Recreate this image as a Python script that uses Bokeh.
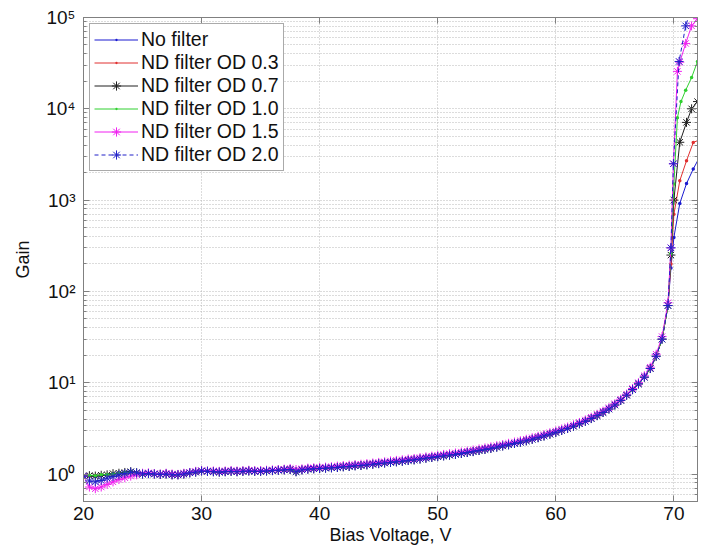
from bokeh.plotting import figure
from bokeh.models import Range1d, FixedTicker, LogAxis, LinearAxis, CustomJSTickFormatter
from bokeh.embed import file_html
from bokeh.resources import INLINE

# ---- data ----
V_HEAD = [20.0, 20.5, 21.0, 21.5, 22.0, 22.5, 23.0, 23.5, 24.0, 24.5]

G_HEAD_NOFILTER = [0.93, 0.95, 0.94, 0.96, 0.98, 1.00, 1.02, 1.03, 1.07, 1.03]
G_HEAD_OD03 = [0.94, 0.95, 0.96, 0.97, 0.99, 1.00, 1.01, 1.03, 1.05, 1.02]
G_HEAD_OD07 = [0.95, 0.96, 0.95, 0.97, 0.98, 1.01, 1.02, 1.04, 1.06, 1.03]
G_HEAD_OD10 = [0.94, 0.97, 0.96, 0.98, 0.99, 1.00, 1.01, 1.03, 1.05, 1.02]
G_HEAD_OD15 = [0.95, 0.72, 0.69, 0.72, 0.77, 0.82, 0.87, 0.91, 0.95, 0.98]
G_HEAD_OD20 = [0.95, 0.84, 0.82, 0.85, 0.90, 0.94, 0.98, 1.01, 1.05, 1.03]

V_MID = [25.0, 25.5, 26.0, 26.5, 27.0, 27.5, 28.0, 28.5, 29.0, 29.5,
         30.0, 30.5, 31.0, 31.5, 32.0, 32.5, 33.0, 33.5, 34.0, 34.5,
         35.0, 35.5, 36.0, 36.5, 37.0, 37.5, 38.0, 38.5, 39.0, 39.5,
         40.0, 40.5, 41.0, 41.5, 42.0, 42.5, 43.0, 43.5, 44.0, 44.5,
         45.0, 45.5, 46.0, 46.5, 47.0, 47.5, 48.0, 48.5, 49.0, 49.5,
         50.0, 50.5, 51.0, 51.5, 52.0, 52.5, 53.0, 53.5, 54.0, 54.5,
         55.0, 55.5, 56.0, 56.5, 57.0, 57.5, 58.0, 58.5, 59.0, 59.5,
         60.0, 60.5, 61.0, 61.5, 62.0, 62.5, 63.0, 63.5, 64.0, 64.5,
         65.0, 65.5, 66.0, 66.5, 67.0, 67.5, 68.0, 68.5, 69.0, 69.5]

G_MID = [1.00, 1.01, 1.00, 0.99, 1.00, 0.98, 0.98, 1.00, 1.03, 1.05,
         1.08, 1.07, 1.06, 1.05, 1.06, 1.07, 1.06, 1.07, 1.08, 1.07,
         1.07, 1.08, 1.09, 1.10, 1.11, 1.12, 1.06, 1.11, 1.13, 1.14,
         1.15, 1.16, 1.17, 1.18, 1.20, 1.21, 1.23, 1.24, 1.26, 1.28,
         1.30, 1.32, 1.34, 1.36, 1.38, 1.41, 1.43, 1.46, 1.49, 1.52,
         1.55, 1.58, 1.61, 1.64, 1.68, 1.72, 1.76, 1.81, 1.86, 1.91,
         1.97, 2.03, 2.09, 2.16, 2.23, 2.31, 2.40, 2.50, 2.61, 2.73,
         2.86, 3.00, 3.16, 3.34, 3.55, 3.78, 4.05, 4.36, 4.72, 5.15,
         5.70, 6.40, 7.30, 8.40, 9.70, 11.5, 14.3, 19.5, 30.0, 70.0]

G_MID_OD15 = [1.02, 1.03, 1.01, 1.00, 1.02, 1.00, 0.99, 1.02, 1.04, 1.07,
              1.09, 1.08, 1.08, 1.07, 1.08, 1.09, 1.08, 1.09, 1.10, 1.09,
              1.09, 1.10, 1.11, 1.12, 1.13, 1.15, 1.12, 1.14, 1.16, 1.17,
              1.18, 1.19, 1.20, 1.22, 1.24, 1.25, 1.27, 1.28, 1.30, 1.32,
              1.34, 1.36, 1.39, 1.41, 1.43, 1.46, 1.48, 1.51, 1.54, 1.57,
              1.60, 1.64, 1.67, 1.70, 1.74, 1.78, 1.83, 1.88, 1.93, 1.98,
              2.04, 2.10, 2.17, 2.24, 2.31, 2.40, 2.49, 2.59, 2.70, 2.83,
              2.96, 3.11, 3.27, 3.46, 3.67, 3.91, 4.19, 4.51, 4.88, 5.32,
              5.88, 6.60, 7.50, 8.65, 10.0, 11.9, 14.8, 20.5, 32.0, 75.0]

V_TAIL_NOFILTER = [69.75, 70.0, 70.5, 71.07, 71.64, 72.2]
G_TAIL_NOFILTER = [180, 390, 920, 1520, 2190, 3000]
V_TAIL_OD03 = [69.75, 70.0, 70.5, 71.07, 71.64, 72.2]
G_TAIL_OD03 = [200, 700, 1630, 2700, 4270, 4600]
V_TAIL_OD07 = [69.75, 70.0, 70.5, 71.07, 71.5, 72.0]
G_TAIL_OD07 = [250, 1000, 4300, 7100, 10000, 12000]
V_TAIL_OD10 = [69.75, 70.0, 70.3, 70.6, 71.0, 71.5, 72.0]
G_TAIL_OD10 = [260, 1500, 8000, 12000, 16000, 22000, 33000]
V_TAIL_OD15 = [69.75, 69.96, 70.3, 70.5, 71.0, 71.5, 72.0]
G_TAIL_OD15 = [300, 2500, 25700, 32400, 52000, 81000, 97000]
V_TAIL_OD20 = [69.75, 69.96, 70.44, 71.0, 71.5]
G_TAIL_OD20 = [300, 2500, 33000, 81000, 130000]

LABELS = ["No filter", "ND filter OD 0.3", "ND filter OD 0.7",
          "ND filter OD 1.0", "ND filter OD 1.5", "ND filter OD 2.0"]
X_TICKS = [20, 30, 40, 50, 60, 70]
Y_TICKS = [1, 10, 100, 1000, 10000, 100000]
Y_MINOR = [0.5, 0.6, 0.7, 0.8, 0.9,
           2, 3, 4, 5, 6, 7, 8, 9,
           20, 30, 40, 50, 60, 70, 80, 90,
           200, 300, 400, 500, 600, 700, 800, 900,
           2000, 3000, 4000, 5000, 6000, 7000, 8000, 9000,
           20000, 30000, 40000, 50000, 60000, 70000, 80000, 90000]

series = [
    (V_HEAD + V_MID + V_TAIL_NOFILTER, G_HEAD_NOFILTER + G_MID + G_TAIL_NOFILTER),
    (V_HEAD + V_MID + V_TAIL_OD03, G_HEAD_OD03 + G_MID + G_TAIL_OD03),
    (V_HEAD + V_MID + V_TAIL_OD07, G_HEAD_OD07 + G_MID + G_TAIL_OD07),
    (V_HEAD + V_MID + V_TAIL_OD10, G_HEAD_OD10 + G_MID + G_TAIL_OD10),
    (V_HEAD + V_MID + V_TAIL_OD15, G_HEAD_OD15 + G_MID_OD15 + G_TAIL_OD15),
    (V_HEAD + V_MID + V_TAIL_OD20, G_HEAD_OD20 + G_MID + G_TAIL_OD20),
]
styles = [
    dict(color="#1a1ad0", marker="dot", size=14, dash="solid"),
    dict(color="#e03030", marker="dot", size=14, dash="solid"),
    dict(color="#202020", marker="asterisk", size=9, dash="solid"),
    dict(color="#30d030", marker="dot", size=14, dash="solid"),
    dict(color="#f020f0", marker="asterisk", size=9, dash="solid"),
    dict(color="#2020c8", marker="asterisk", size=9, dash="4 3"),
]

FONT = "Liberation Sans"
AX = "#808080"
GRID = "#b8b8b8"

p = figure(width=705, height=549, x_range=Range1d(20, 72), y_range=Range1d(0.5, 1e5),
           y_axis_type="log", output_backend="svg", toolbar_location=None,
           min_border_left=83, min_border_right=8, min_border_top=17, min_border_bottom=48)
p.background_fill_color = "white"
p.border_fill_color = "white"
p.outline_line_color = AX

xt = FixedTicker(ticks=X_TICKS, minor_ticks=[])
yt = FixedTicker(ticks=Y_TICKS, minor_ticks=Y_MINOR)
p.xaxis.ticker = xt
p.yaxis.ticker = yt
p.xgrid.ticker = xt
p.ygrid.ticker = yt
p.yaxis.formatter = CustomJSTickFormatter(code="""
const sup = ['\u2070','\u00b9','\u00b2','\u00b3','\u2074','\u2075'];
const e = Math.round(Math.log10(tick));
return '10' + sup[e];
""")

for ax in [p.xaxis[0], p.yaxis[0]]:
    ax.major_tick_in = 6
    ax.major_tick_out = 0
    ax.minor_tick_in = 3
    ax.minor_tick_out = 0
    ax.axis_line_color = AX
    ax.major_tick_line_color = AX
    ax.minor_tick_line_color = AX
    ax.major_label_text_font = FONT
    ax.major_label_text_font_size = "19px"
    ax.major_label_text_color = "#111111"
    ax.axis_label_text_font = FONT
    ax.axis_label_text_font_size = "18px"
    ax.axis_label_text_font_style = "normal"
    ax.axis_label_text_color = "#111111"
p.xaxis.axis_label = "Bias Voltage, V"
p.yaxis.axis_label = "Gain"
p.xaxis.major_label_standoff = 5
p.xaxis.axis_label_standoff = 2
p.yaxis.major_label_standoff = 8
p.yaxis.axis_label_standoff = 10

blank = CustomJSTickFormatter(code="return ''")
top = LinearAxis(ticker=xt, formatter=blank, major_tick_in=6, major_tick_out=0,
                 minor_tick_in=0, minor_tick_out=0, axis_line_color=AX,
                 major_tick_line_color=AX, major_label_standoff=0)
right = LogAxis(ticker=yt, formatter=blank, major_tick_in=6, major_tick_out=0,
                minor_tick_in=3, minor_tick_out=0, axis_line_color=AX,
                major_tick_line_color=AX, minor_tick_line_color=AX, major_label_standoff=0)
p.add_layout(top, "above")
p.add_layout(right, "right")

for g in [p.xgrid[0], p.ygrid[0]]:
    g.grid_line_color = GRID
    g.grid_line_dash = "1 2"
p.ygrid.minor_grid_line_color = GRID
p.ygrid.minor_grid_line_dash = "1 2"

for (xs, ys), st, lab in zip(series, styles, LABELS):
    p.line(xs, ys, line_color=st["color"], line_width=1, line_dash=st["dash"], legend_label=lab)
    p.scatter(xs, ys, marker=st["marker"], size=st["size"], fill_color=st["color"],
              line_color=st["color"], line_width=1, legend_label=lab)

lg = p.legend[0]
lg.location = "top_left"
lg.margin = 6
lg.padding = 4
lg.spacing = 0
lg.glyph_width = 44
lg.glyph_height = 23
lg.label_height = 23
lg.label_standoff = 3
lg.label_text_font = FONT
lg.label_text_font_size = "19.5px"
lg.label_text_color = "#111111"
lg.border_line_color = "#555555"
lg.background_fill_color = "white"
lg.background_fill_alpha = 1.0

open("out.html", "w").write(file_html(p, INLINE))
